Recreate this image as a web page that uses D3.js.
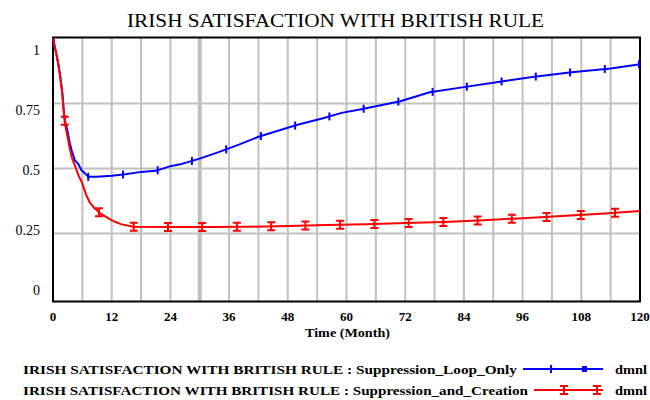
<!DOCTYPE html>
<html>
<head>
<meta charset="utf-8">
<script src="https://cdn.jsdelivr.net/npm/d3@7"></script>
<style>
  body { margin: 0; background: #fff; }
  text { font-family: "Liberation Serif", "DejaVu Serif", serif; fill: #000; }
</style>
</head>
<body>
<div id="chart"></div>
<script>
// values
var blueMonths = [0, 0.8, 1.1, 1.5, 1.9, 2.2, 2.5, 2.9, 3.4, 3.8, 4.5, 5.1, 5.8, 6.5, 7.2, 9, 12, 14.8, 18, 21, 24, 26, 30, 34, 38, 42, 46, 50, 55, 59, 63, 67, 71, 77, 84, 91, 98, 106, 114, 120];
var blueValues = [1.0, 0.93, 0.90, 0.85, 0.79, 0.72, 0.68, 0.65, 0.60, 0.57, 0.53, 0.52, 0.494, 0.482, 0.468, 0.468, 0.472, 0.478, 0.487, 0.491, 0.509, 0.516, 0.538, 0.564, 0.592, 0.622, 0.645, 0.668, 0.692, 0.714, 0.728, 0.743, 0.759, 0.793, 0.813, 0.833, 0.852, 0.870, 0.885, 0.901];

var redMonths = [0, 0.8, 1.1, 1.5, 1.9, 2.2, 2.5, 3.0, 3.4, 3.8, 4.5, 5.2, 5.9, 6.4, 6.8, 7.5, 8.3, 9.6, 11.6, 12.7, 14, 16.5, 24, 32, 40, 48, 56, 64, 72, 80, 88, 96, 104, 112, 120];
var redValues = [1.0, 0.93, 0.90, 0.85, 0.79, 0.72, 0.665, 0.62, 0.58, 0.545, 0.51, 0.474, 0.447, 0.42, 0.398, 0.37, 0.351, 0.328, 0.305, 0.295, 0.285, 0.276, 0.275, 0.275, 0.276, 0.279, 0.283, 0.286, 0.29, 0.294, 0.301, 0.309, 0.317, 0.326, 0.337];

var blueMarkerMonths = [0.2, 7.2, 14.3, 21.4, 28.4, 35.4, 42.5, 49.5, 56.5, 63.5, 70.6, 77.6, 84.6, 91.7, 98.7, 105.7, 112.8, 119.8];
var redMarkerMonths = [2.4, 9.4, 16.5, 23.5, 30.5, 37.6, 44.6, 51.6, 58.7, 65.7, 72.7, 79.8, 86.8, 93.8, 100.9, 107.9, 114.9];

var xTickValues = [0, 12, 24, 36, 48, 60, 72, 84, 96, 108, 120];
var xGridValues = [6, 12, 18, 24, 30, 36, 42, 48, 54, 60, 66, 72, 78, 84, 90, 96, 102, 108, 114];
var yTickValues = [0, 0.25, 0.5, 0.75, 1];
var yTickLabels = ["0", "0.25", "0.5", "0.75", "1"];

var title = "IRISH SATISFACTION WITH BRITISH RULE";
var xTitle = "Time (Month)";
var seriesNames = ["IRISH SATISFACTION WITH BRITISH RULE : Suppression_Loop_Only",
                   "IRISH SATISFACTION WITH BRITISH RULE : Suppression_and_Creation"];
var unitLabel = "dmnl";

var svg = d3.select('#chart')
  .append("svg")
  .attr("width", 650)
  .attr("height", 400);

var x = d3.scaleLinear().domain([0, 120]).range([53, 640]);
var y = d3.scaleLinear().domain([0, 1]).range([298.5, 38.5]);
// the y labels sit on their own spacing in the original
var yLab = d3.scaleLinear().domain([0, 1]).range([295, 55]);

// title
svg.append("text").attr("x", 127).attr("y", 27)
  .attr("textLength", 417).attr("lengthAdjust", "spacingAndGlyphs")
  .style("font-size", "19px").text(title);

// grid
svg.selectAll(".vg").data(xGridValues).enter().append("line")
  .attr("x1", function(d){ return x(d); }).attr("x2", function(d){ return x(d); })
  .attr("y1", 37.5).attr("y2", 301.5)
  .attr("stroke", "#c0c0c0")
  .attr("stroke-width", function(d){ return d === 30 ? 4 : 2; });

svg.selectAll(".hg").data([0.25, 0.5, 0.75]).enter().append("line")
  .attr("x1", 53).attr("x2", 640)
  .attr("y1", function(d){ return y(d); }).attr("y2", function(d){ return y(d); })
  .attr("stroke", "#c0c0c0").attr("stroke-width", 2);

// frame
svg.append("rect").attr("x", 53).attr("y", 37.5).attr("width", 587).attr("height", 264)
  .attr("fill", "none").attr("stroke", "#000").attr("stroke-width", 2);

// y labels
svg.selectAll(".yl").data(yTickValues).enter().append("text")
  .attr("x", 40).attr("y", function(d){ return yLab(d); })
  .attr("text-anchor", "end").style("font-size", "14px")
  .text(function(d, i){ return yTickLabels[i]; });

// x labels
svg.selectAll(".xl").data(xTickValues).enter().append("text")
  .attr("x", function(d){ return x(d); }).attr("y", 321)
  .attr("text-anchor", "middle").style("font-size", "13px").style("font-weight", "bold")
  .text(function(d){ return d; });

svg.append("text").attr("x", 305).attr("y", 337)
  .attr("textLength", 85).attr("lengthAdjust", "spacingAndGlyphs")
  .style("font-size", "13px").style("font-weight", "bold").text(xTitle);

function interp(months, vals, t) {
  var i = d3.bisectRight(months, t);
  if (i <= 0) return vals[0];
  if (i >= months.length) return vals[vals.length - 1];
  var f = (t - months[i-1]) / (months[i] - months[i-1]);
  return vals[i-1] + f * (vals[i] - vals[i-1]);
}

var line = d3.line()
  .x(function(d){ return x(d[0]); })
  .y(function(d){ return y(d[1]); });

function plusMark(g, cx, cy) {
  g.append("line").attr("x1", cx).attr("x2", cx).attr("y1", cy - 4).attr("y2", cy + 4)
    .attr("stroke", "#0000ff").attr("stroke-width", 2);
}
function beamMark(g, cx, cy) {
  g.append("path")
    .attr("d", "M" + (cx-4) + "," + (cy-4) + "H" + (cx+4) + "M" + cx + "," + (cy-4) + "V" + (cy+4) + "M" + (cx-4) + "," + (cy+4) + "H" + (cx+4))
    .attr("stroke", "#ff0000").attr("stroke-width", 2).attr("fill", "none");
}

// blue series
svg.append("path").datum(d3.zip(blueMonths, blueValues))
  .attr("d", line).attr("fill", "none").attr("stroke", "#0000ff").attr("stroke-width", 2);
var gb = svg.append("g");
blueMarkerMonths.forEach(function(t){ plusMark(gb, x(t), y(interp(blueMonths, blueValues, t))); });

// red series
svg.append("path").datum(d3.zip(redMonths, redValues))
  .attr("d", line).attr("fill", "none").attr("stroke", "#ff0000").attr("stroke-width", 2);
var gr = svg.append("g");
redMarkerMonths.forEach(function(t){ beamMark(gr, x(t), y(interp(redMonths, redValues, t))); });

// legend
svg.append("text").attr("x", 23).attr("y", 374)
  .attr("textLength", 494).attr("lengthAdjust", "spacingAndGlyphs")
  .style("font-size", "13px").style("font-weight", "bold").text(seriesNames[0]);
svg.append("text").attr("x", 23).attr("y", 395)
  .attr("textLength", 505).attr("lengthAdjust", "spacingAndGlyphs")
  .style("font-size", "13px").style("font-weight", "bold").text(seriesNames[1]);

svg.append("line").attr("x1", 523).attr("x2", 603).attr("y1", 369).attr("y2", 369)
  .attr("stroke", "#0000ff").attr("stroke-width", 2);
plusMark(svg, 551, 369);
svg.append("rect").attr("x", 582).attr("y", 366).attr("width", 5).attr("height", 6).attr("fill", "#0000ff");

svg.append("line").attr("x1", 534).attr("x2", 603).attr("y1", 390).attr("y2", 390)
  .attr("stroke", "#ff0000").attr("stroke-width", 2);
beamMark(svg, 564, 390);
beamMark(svg, 597, 390);

svg.append("text").attr("x", 615).attr("y", 374).attr("textLength", 32).attr("lengthAdjust", "spacingAndGlyphs")
  .style("font-size", "13px").style("font-weight", "bold").text(unitLabel);
svg.append("text").attr("x", 615).attr("y", 395).attr("textLength", 32).attr("lengthAdjust", "spacingAndGlyphs")
  .style("font-size", "13px").style("font-weight", "bold").text(unitLabel);
</script>
</body>
</html>
